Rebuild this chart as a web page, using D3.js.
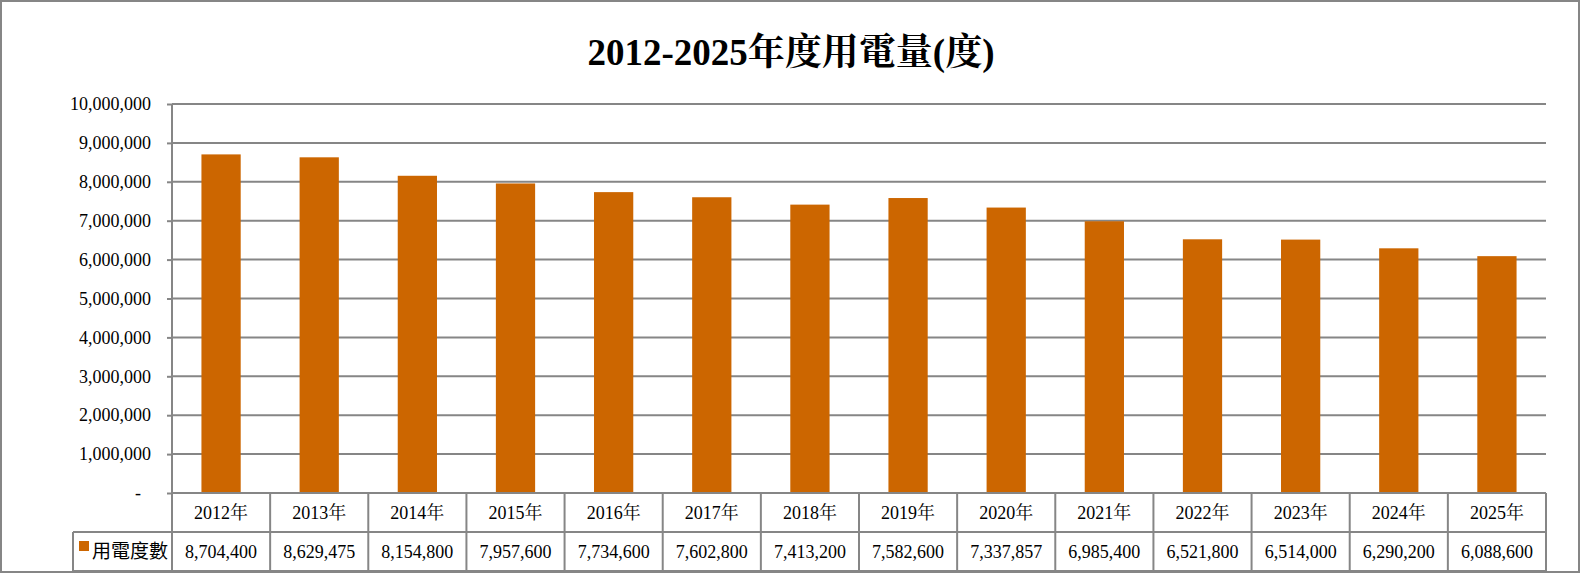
<!DOCTYPE html>
<html>
<head>
<meta charset="utf-8">
<script src="https://cdn.jsdelivr.net/npm/d3@7"></script>
<style>
  body { margin: 0; background: #fff; }
  svg text { fill: #000; }
</style>
</head>
<body>
<div id="container"></div>
<script>
//---------- DATA ----------//
const years = ["2012年", "2013年", "2014年", "2015年", "2016年", "2017年", "2018年",
               "2019年", "2020年", "2021年", "2022年", "2023年", "2024年", "2025年"];
const usage = [8704400, 8629475, 8154800, 7957600, 7734600, 7602800, 7413200,
               7582600, 7337857, 6985400, 6521800, 6514000, 6290200, 6088600];
const yTicks = [0, 1000000, 2000000, 3000000, 4000000, 5000000, 6000000,
                7000000, 8000000, 9000000, 10000000];
const seriesName = "用電度數";
const title = "2012-2025年度用電量(度)";

//---------- SVG ----------//
const width = 1582;
const height = 574;
const plot = { left: 172, right: 1546, top: 104, bottom: 493 };
const rowH = 39;
const gray = "#868686";
const barColor = "#CC6600";
const serif = "'Liberation Serif', 'Times New Roman', 'Noto Serif CJK TC', 'Noto Sans CJK TC', serif";
const cjk = "'Noto Sans CJK TC', 'Noto Sans', sans-serif";

const svg = d3.select("div#container")
    .append("svg")
    .attr("width", width)
    .attr("height", height);

// outer frame
svg.append("rect")
    .attr("x", 1).attr("y", 1)
    .attr("width", 1578).attr("height", 571)
    .attr("fill", "#fff")
    .attr("stroke", gray)
    .attr("stroke-width", 2);

// title
svg.append("text")
    .attr("x", 791)
    .attr("y", 65)
    .attr("text-anchor", "middle")
    .style("font-family", serif)
    .style("font-weight", "bold")
    .style("font-size", "37px")
    .text(title);

//---------- SCALES ----------//
const xScale = d3.scaleBand()
    .domain(years)
    .range([plot.left, plot.right])
    .paddingInner(0.6)
    .paddingOuter(0.3);
const cellScale = d3.scaleBand()
    .domain(years)
    .range([plot.left, plot.right]);
const yScale = d3.scaleLinear()
    .domain([0, 10000000])
    .range([plot.bottom, plot.top]);

//---------- GRID + Y AXIS ----------//
const yAxis = d3.axisLeft(yScale)
    .tickValues(yTicks)
    .tickSize(5)
    .tickPadding(16)
    .tickFormat(d => d === 0 ? "-" : d3.format(",")(d));

const yg = svg.append("g")
    .attr("transform", `translate(${plot.left},0)`)
    .call(yAxis);
yg.select(".domain").remove();
yg.selectAll(".tick line").attr("stroke", gray).attr("stroke-width", 2);
yg.selectAll(".tick text")
    .style("font-family", serif)
    .style("font-size", "18px")
    .attr("dx", d => d === 0 ? "-10px" : null);

svg.append("g")
    .selectAll("line")
    .data(yTicks.filter(d => d > 0))
    .join("line")
    .attr("x1", plot.left)
    .attr("x2", plot.right)
    .attr("y1", d => yScale(d))
    .attr("y2", d => yScale(d))
    .attr("stroke", gray)
    .attr("stroke-width", 2);

//---------- BARS ----------//
svg.append("g")
    .selectAll("rect")
    .data(usage)
    .join("rect")
    .attr("x", (d, i) => xScale(years[i]))
    .attr("y", d => yScale(d))
    .attr("width", xScale.bandwidth())
    .attr("height", d => yScale(0) - yScale(d))
    .attr("fill", barColor);

// axis line on the left of the plot
svg.append("line")
    .attr("x1", plot.left).attr("x2", plot.left)
    .attr("y1", plot.top).attr("y2", plot.bottom)
    .attr("stroke", gray).attr("stroke-width", 2);

//---------- DATA TABLE ----------//
const table = svg.append("g")
    .attr("fill", "none")
    .attr("stroke", gray)
    .attr("stroke-width", 2);
const r1 = plot.bottom, r2 = plot.bottom + rowH, r3 = plot.bottom + rowH * 2;
const tableLeft = 73;

// horizontal lines
table.append("line").attr("x1", plot.left).attr("x2", plot.right).attr("y1", r1).attr("y2", r1);
table.append("line").attr("x1", tableLeft).attr("x2", plot.right).attr("y1", r2).attr("y2", r2);
table.append("line").attr("x1", tableLeft).attr("x2", plot.right).attr("y1", r3).attr("y2", r3);
table.append("line").attr("x1", tableLeft).attr("x2", tableLeft).attr("y1", r2).attr("y2", r3);

// vertical lines between columns
table.selectAll(".col")
    .data(years.concat(["end"]))
    .join("line")
    .attr("class", "col")
    .attr("x1", d => d === "end" ? plot.right : cellScale(d))
    .attr("x2", d => d === "end" ? plot.right : cellScale(d))
    .attr("y1", r1)
    .attr("y2", r3);

// year labels
svg.append("g")
    .selectAll("text")
    .data(years)
    .join("text")
    .attr("x", d => cellScale(d) + cellScale.bandwidth() / 2)
    .attr("y", r1 + 26)
    .attr("text-anchor", "middle")
    .style("font-family", serif)
    .style("font-size", "18px")
    .text(d => d);

// values
svg.append("g")
    .selectAll("text")
    .data(usage)
    .join("text")
    .attr("x", (d, i) => cellScale(years[i]) + cellScale.bandwidth() / 2)
    .attr("y", r2 + 26)
    .attr("text-anchor", "middle")
    .style("font-family", serif)
    .style("font-size", "18px")
    .text(d => d3.format(",")(d));

// legend key + series name
svg.append("rect")
    .attr("x", 79).attr("y", r2 + 9)
    .attr("width", 10).attr("height", 10)
    .attr("fill", barColor);
svg.append("text")
    .attr("x", 92)
    .attr("y", r2 + 26)
    .style("font-family", cjk)
    .style("font-size", "19px")
    .text(seriesName);
</script>
</body>
</html>
